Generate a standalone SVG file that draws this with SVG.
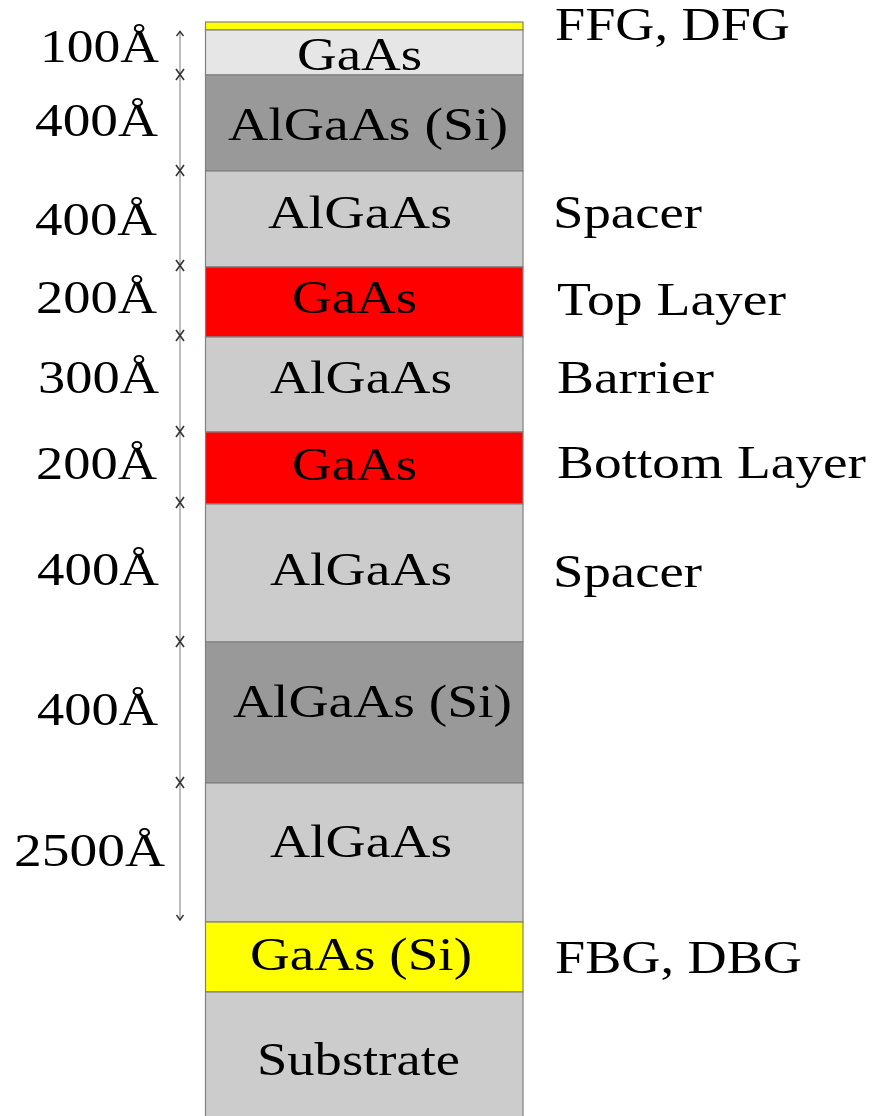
<svg xmlns="http://www.w3.org/2000/svg" width="874" height="1116" viewBox="0 0 874 1116">
<style>
.t text{font-size:46px;fill:#000}
.lay{stroke:#808080;stroke-width:1.2}
.x{stroke:#333;stroke-width:1.6;fill:none}
.arr{stroke:#333;stroke-width:1.4;fill:none}
</style>
<rect width="874" height="1116" fill="#fff"/>
<g id="layers" class="t" font-family="Liberation Serif, Times New Roman, serif">
<g id="cap"><rect class="lay" x="205.5" y="22" width="317.5" height="8" fill="#ffff00"/></g>
<g id="l1"><rect class="lay" x="205.5" y="30" width="317.5" height="45" fill="#e6e6e6"/><text x="297" y="70" textLength="125" lengthAdjust="spacingAndGlyphs">GaAs</text></g>
<g id="l2"><rect class="lay" x="205.5" y="75" width="317.5" height="96" fill="#999999"/><text x="228" y="140" textLength="280" lengthAdjust="spacingAndGlyphs">AlGaAs (Si)</text></g>
<g id="l3"><rect class="lay" x="205.5" y="171" width="317.5" height="96" fill="#cccccc"/><text x="268" y="228" textLength="184" lengthAdjust="spacingAndGlyphs">AlGaAs</text></g>
<g id="l4"><rect class="lay" x="205.5" y="267" width="317.5" height="70" fill="#ff0000"/><text x="292" y="313" textLength="125" lengthAdjust="spacingAndGlyphs">GaAs</text></g>
<g id="l5"><rect class="lay" x="205.5" y="337" width="317.5" height="95" fill="#cccccc"/><text x="270" y="393" textLength="182" lengthAdjust="spacingAndGlyphs">AlGaAs</text></g>
<g id="l6"><rect class="lay" x="205.5" y="432" width="317.5" height="72" fill="#ff0000"/><text x="292" y="480" textLength="125" lengthAdjust="spacingAndGlyphs">GaAs</text></g>
<g id="l7"><rect class="lay" x="205.5" y="504" width="317.5" height="138" fill="#cccccc"/><text x="270" y="585" textLength="182" lengthAdjust="spacingAndGlyphs">AlGaAs</text></g>
<g id="l8"><rect class="lay" x="205.5" y="642" width="317.5" height="141" fill="#999999"/><text x="233" y="717" textLength="279" lengthAdjust="spacingAndGlyphs">AlGaAs (Si)</text></g>
<g id="l9"><rect class="lay" x="205.5" y="783" width="317.5" height="139" fill="#cccccc"/><text x="270" y="857" textLength="182" lengthAdjust="spacingAndGlyphs">AlGaAs</text></g>
<g id="l10"><rect class="lay" x="205.5" y="922" width="317.5" height="70" fill="#ffff00"/><text x="250" y="970" textLength="222" lengthAdjust="spacingAndGlyphs">GaAs (Si)</text></g>
<g id="l11"><rect class="lay" x="205.5" y="992" width="317.5" height="130" fill="#cccccc"/><text x="257" y="1075" textLength="203" lengthAdjust="spacingAndGlyphs">Substrate</text></g>
</g>
<g id="connectors">
<line x1="180" y1="31" x2="180" y2="920" stroke="#999" stroke-width="1.3"/>
<polyline class="arr" points="176.5,36 180,31.5 183.5,36"/>
<polyline class="arr" points="176.5,915 180,920 183.5,915"/>
<g class="x">
<path d="M176,69 L184,80 M184,69 L176,80"/>
<path d="M176,165 L184,176 M184,165 L176,176"/>
<path d="M176,260 L184,271 M184,260 L176,271"/>
<path d="M176,330 L184,341 M184,330 L176,341"/>
<path d="M176,426 L184,437 M184,426 L176,437"/>
<path d="M176,497 L184,508 M184,497 L176,508"/>
<path d="M176,636 L184,647 M184,636 L176,647"/>
<path d="M176,777 L184,788 M184,777 L176,788"/>
</g>
</g>
<g id="thickness" class="t" font-family="Liberation Serif, Times New Roman, serif">
<text x="40" y="62" textLength="119" lengthAdjust="spacingAndGlyphs">100Å</text>
<text x="35" y="136" textLength="123" lengthAdjust="spacingAndGlyphs">400Å</text>
<text x="35" y="235" textLength="122" lengthAdjust="spacingAndGlyphs">400Å</text>
<text x="36" y="313" textLength="121" lengthAdjust="spacingAndGlyphs">200Å</text>
<text x="38" y="393" textLength="121" lengthAdjust="spacingAndGlyphs">300Å</text>
<text x="36" y="479" textLength="121" lengthAdjust="spacingAndGlyphs">200Å</text>
<text x="37" y="585" textLength="122" lengthAdjust="spacingAndGlyphs">400Å</text>
<text x="37" y="725" textLength="121" lengthAdjust="spacingAndGlyphs">400Å</text>
<text x="14" y="866" textLength="151" lengthAdjust="spacingAndGlyphs">2500Å</text>
</g>
<g id="names" class="t" font-family="Liberation Serif, Times New Roman, serif">
<text x="555" y="40" textLength="235" lengthAdjust="spacingAndGlyphs">FFG, DFG</text>
<text x="553" y="228" textLength="149" lengthAdjust="spacingAndGlyphs">Spacer</text>
<text x="557" y="315" textLength="229" lengthAdjust="spacingAndGlyphs">Top Layer</text>
<text x="557" y="393" textLength="157" lengthAdjust="spacingAndGlyphs">Barrier</text>
<text x="557" y="478" textLength="309" lengthAdjust="spacingAndGlyphs">Bottom Layer</text>
<text x="553" y="587" textLength="149" lengthAdjust="spacingAndGlyphs">Spacer</text>
<text x="555" y="973" textLength="247" lengthAdjust="spacingAndGlyphs">FBG, DBG</text>
</g>
</svg>
